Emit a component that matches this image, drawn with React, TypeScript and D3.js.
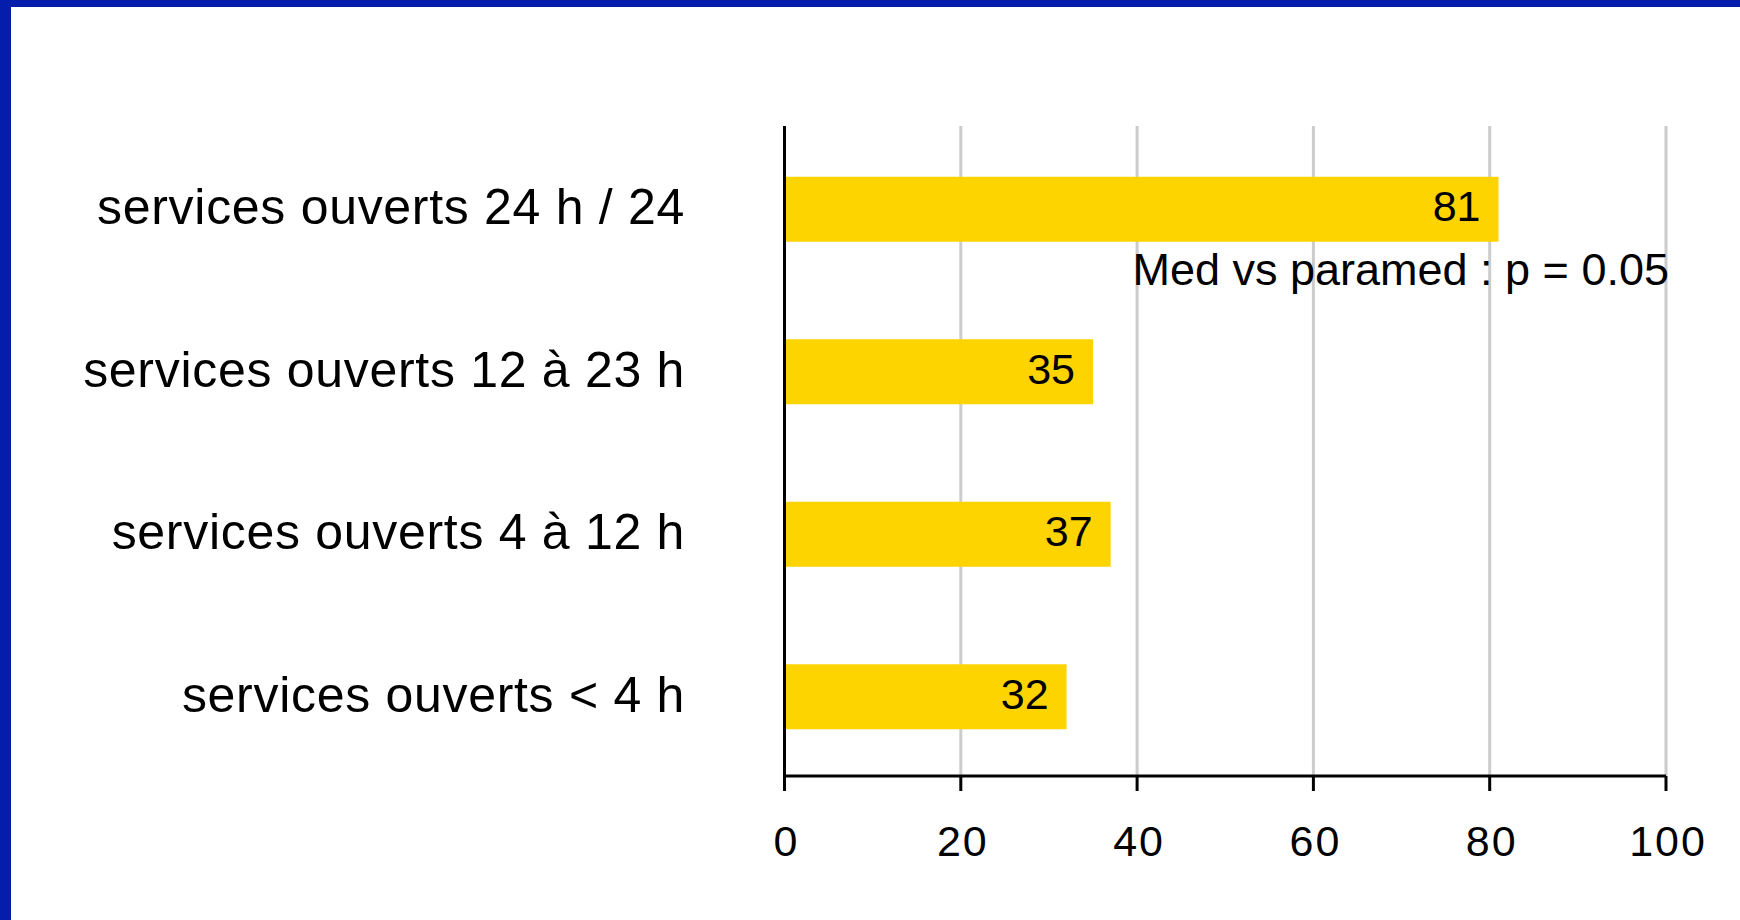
import React from "react";
import * as d3 from "d3";

const categories = [
  "services ouverts 24 h / 24",
  "services ouverts 12 à 23 h",
  "services ouverts 4 à 12 h",
  "services ouverts < 4 h",
];
const values = [81, 35, 37, 32];
const xTicks = [0, 20, 40, 60, 80, 100];
const annotation = "Med vs paramed : p = 0.05";

const W = 1740;
const H = 920;
const BLUE = "#041DAB";
const GOLD = "#FDD300";
const FONT = "'Liberation Sans', Arial, sans-serif";

export default function App() {
  const x = d3.scaleLinear().domain([0, 100]).range([784.5, 1666]);
  const y = d3
    .scaleBand<string>()
    .domain(categories)
    .range([128, 778])
    .paddingInner(0.6)
    .paddingOuter(0.3);
  const plotTop = 126;
  const plotBottom = 776;

  return (
    <div style={{ position: "absolute", left: 0, top: 0, width: W, height: H }}>
      <svg width={W} height={H} style={{ display: "block" }}>
        <rect x={0} y={0} width={W} height={H} fill="#fff" />
        <rect x={0} y={0} width={W} height={7} fill={BLUE} />
        <rect x={0} y={0} width={11} height={H} fill={BLUE} />

        {xTicks.map((t) => (
          <line
            key={"g" + t}
            x1={x(t)}
            x2={x(t)}
            y1={plotTop}
            y2={plotBottom}
            stroke="#cccccc"
            strokeWidth={3}
          />
        ))}

        {categories.map((c, i) => (
          <rect
            key={"b" + c}
            x={x(0)}
            y={y(c)!}
            width={x(values[i]) - x(0)}
            height={y.bandwidth()}
            fill={GOLD}
          />
        ))}

        <line x1={x(0)} x2={x(0)} y1={plotTop} y2={plotBottom + 15} stroke="#000" strokeWidth={3} />
        <line x1={x(0)} x2={x(100)} y1={plotBottom} y2={plotBottom} stroke="#000" strokeWidth={3} />
        {xTicks.map((t) => (
          <line
            key={"t" + t}
            x1={x(t)}
            x2={x(t)}
            y1={plotBottom}
            y2={plotBottom + 15}
            stroke="#000"
            strokeWidth={3}
          />
        ))}
        {xTicks.map((t) => (
          <text
            key={"tl" + t}
            x={x(t) + 2}
            y={plotBottom + 80}
            textAnchor="middle"
            fontFamily={FONT}
            fontSize={43}
            letterSpacing={2}
            fill="#000"
          >
            {t}
          </text>
        ))}

        {categories.map((c) => (
          <text
            key={"cl" + c}
            x={685}
            y={y(c)! + y.bandwidth() / 2 + 15}
            textAnchor="end"
            fontFamily={FONT}
            fontSize={50}
            letterSpacing={0.7}
            fill="#000"
          >
            {c}
          </text>
        ))}

        {categories.map((c, i) => (
          <text
            key={"vl" + c}
            x={x(values[i]) - 18}
            y={y(c)! + y.bandwidth() / 2 + 12}
            textAnchor="end"
            fontFamily={FONT}
            fontSize={43}
            fill="#000"
          >
            {values[i]}
          </text>
        ))}

        <text
          x={x(100) + 3}
          y={285}
          textAnchor="end"
          fontFamily={FONT}
          fontSize={45}
          fill="#000"
        >
          {annotation}
        </text>
      </svg>
    </div>
  );
}
